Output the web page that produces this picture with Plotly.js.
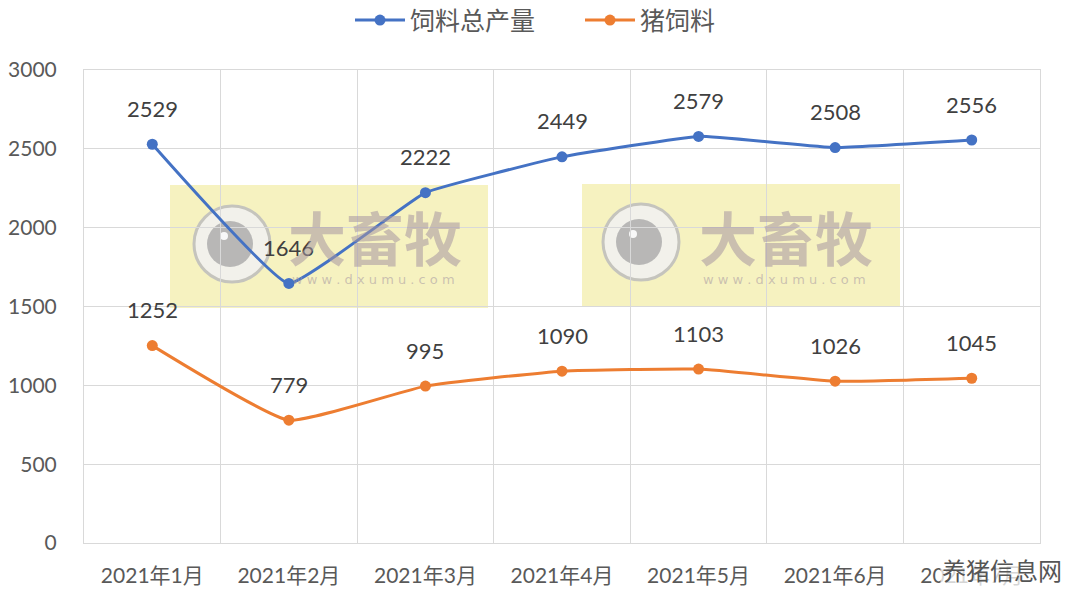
<!DOCTYPE html>
<html>
<head>
<meta charset="utf-8">
<script src="https://cdn.plot.ly/plotly-3.0.1.min.js"></script>
<style>html,body{margin:0;padding:0;background:#fff;}#chart{width:1066px;height:589px;}</style>
</head>
<body>
<div id="chart"></div>
<script>
const categories = ['2021年1月','2021年2月','2021年3月','2021年4月','2021年5月','2021年6月','2021年7月'];
const totalFeed = [2529, 1646, 2222, 2449, 2579, 2508, 2556];
const pigFeed = [1252, 779, 995, 1090, 1103, 1026, 1045];
const seriesNames = ['饲料总产量', '猪饲料'];
const yTicks = [0, 500, 1000, 1500, 2000, 2500, 3000];

const FONT = 'Lato, "Noto Sans CJK SC", sans-serif';
const BLUE = '#4472C4', ORANGE = '#ED7D31';

const traces = [
  {x: categories, y: totalFeed, name: seriesNames[0], type: 'scatter', mode: 'lines+markers',
   line: {color: BLUE, width: 3, shape: 'spline', smoothing: 0.3},
   marker: {color: BLUE, size: 11}},
  {x: categories, y: pigFeed, name: seriesNames[1], type: 'scatter', mode: 'lines+markers',
   line: {color: ORANGE, width: 3, shape: 'spline', smoothing: 0.4},
   marker: {color: ORANGE, size: 11}}
];

const annotations = [];
[totalFeed, pigFeed].forEach(arr => {
  arr.forEach((v, i) => annotations.push({
    x: categories[i], y: v, xref: 'x', yref: 'y', text: String(v), showarrow: false,
    yshift: 36, font: {family: FONT, size: 22, color: '#404040'}
  }));
});

// plot-area pixel helpers for decorative watermark placement
const L = 84, R = 1040, T = 70, B = 543;
const px = x => (x - L) / (R - L);
const py = y => (B - y) / (B - T);

const shapes = [];
function watermark(x0, y0, x1, y1, cx, cy, tx) {
  shapes.push({type: 'rect', xref: 'paper', yref: 'paper', x0: px(x0), x1: px(x1), y0: py(y1), y1: py(y0),
    fillcolor: '#ebe274', opacity: 0.45, line: {width: 0}, layer: 'between'});
  shapes.push({type: 'circle', xref: 'paper', yref: 'paper', x0: px(cx - 38), x1: px(cx + 38), y0: py(cy + 38), y1: py(cy - 38),
    fillcolor: '#f2f1f3', opacity: 0.85, line: {color: '#bdbdbd', width: 3}, layer: 'between'});
  shapes.push({type: 'circle', xref: 'paper', yref: 'paper', x0: px(cx - 25), x1: px(cx + 21), y0: py(cy + 23), y1: py(cy - 23),
    fillcolor: '#a9a9a9', opacity: 0.8, line: {width: 0}, layer: 'between'});
  shapes.push({type: 'circle', xref: 'paper', yref: 'paper', x0: px(cx - 12), x1: px(cx - 4), y0: py(cy - 4), y1: py(cy - 12),
    fillcolor: '#ffffff', opacity: 0.9, line: {width: 0}, layer: 'between'});
  annotations.push({xref: 'paper', yref: 'paper', x: px(tx), y: py(236), xanchor: 'left', yanchor: 'middle',
    text: '<b>大畜牧</b>', showarrow: false, font: {family: '"Noto Sans CJK SC"', size: 58, color: 'rgba(165,150,160,0.55)'}});
  annotations.push({xref: 'paper', yref: 'paper', x: px(tx + 4), y: py(279), xanchor: 'left', yanchor: 'middle',
    text: 'w w w . d x u m u . c o m', showarrow: false, font: {family: '"DejaVu Sans"', size: 13, color: 'rgba(165,150,160,0.55)'}});
}
watermark(170, 185, 488, 308, 232, 244, 286);
watermark(582, 184, 900, 306, 641, 242, 697);

annotations.push({xref: 'paper', yref: 'paper', x: px(1064), y: py(569), xanchor: 'right', yanchor: 'middle',
  text: '养猪信息网', showarrow: false, bgcolor: 'rgba(255,255,255,0.75)',
  font: {family: '"Noto Sans CJK SC"', size: 24, color: '#555555'}});

const layout = {
  width: 1066, height: 589,
  margin: {l: 84, r: 26, t: 70, b: 46, autoexpand: false},
  paper_bgcolor: '#ffffff', plot_bgcolor: '#ffffff',
  font: {family: FONT, color: '#595959', size: 20},
  showlegend: true,
  legend: {orientation: 'h', x: px(350), xanchor: 'left', y: 1.105, yanchor: 'middle',
    entrywidth: 165, entrywidthmode: 'pixels',
    font: {family: '"Noto Sans CJK SC"', size: 25, color: '#595959'}, itemwidth: 50, tracegroupgap: 0},
  xaxis: {type: 'category', tickson: 'boundaries', showgrid: true, gridcolor: '#d9d9d9', gridwidth: 1,
    showline: true, linecolor: '#d9d9d9', linewidth: 1, mirror: true, ticks: '', ticklabelstandoff: 14,
    zeroline: false, range: [-0.5, 6.5], tickfont: {family: FONT, size: 21, color: '#595959'}},
  yaxis: {range: [0, 3000], tickvals: yTicks, showgrid: true, gridcolor: '#d9d9d9', gridwidth: 1,
    showline: true, linecolor: '#d9d9d9', mirror: true, zeroline: false, ticks: '', ticklabelstandoff: 22,
    tickfont: {family: FONT, size: 21, color: '#595959'}},
  annotations: annotations,
  shapes: shapes
};

Plotly.newPlot('chart', traces, layout, {displayModeBar: false, staticPlot: true});
</script>
</body>
</html>
